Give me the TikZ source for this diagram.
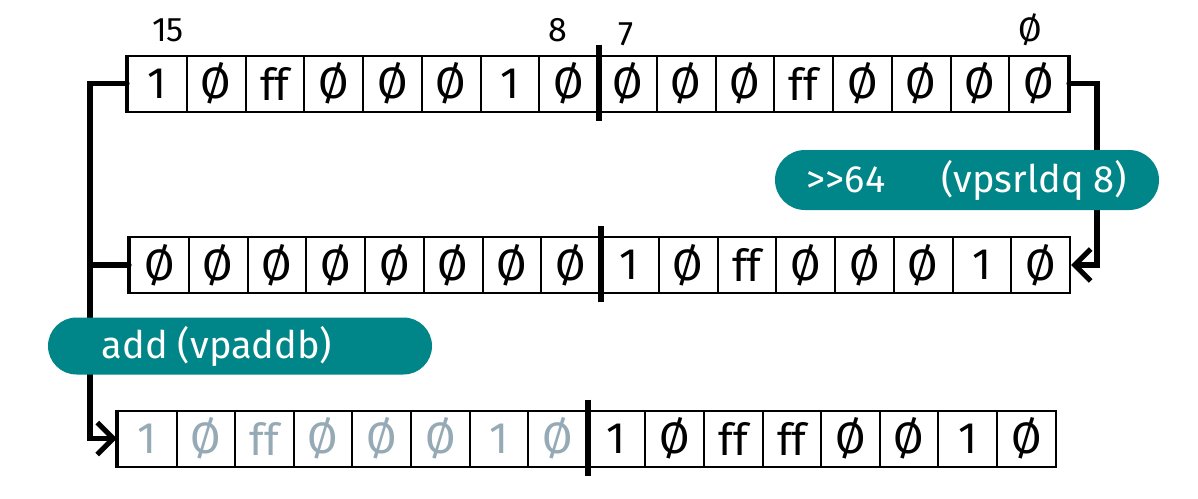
\documentclass[tikz,border=0pt]{standalone}
\usepackage{fontspec}
\setmainfont{Fira Sans}
\usetikzlibrary{arrows.meta,shapes.misc}
\definecolor{blobteal}{RGB}{0,133,136}
\definecolor{fadegray}{RGB}{150,170,182}
\begin{document}
\begin{tikzpicture}[x=0.5pt,y=-0.5pt,
  cellbox/.style={draw=black, line width=1pt, minimum width=29.375pt, minimum height=28pt, inner sep=0pt, font=\fontsize{22}{22}\selectfont},
  fadecell/.style={cellbox, text=fadegray},
  endedge/.style={line width=2pt},
  middiv/.style={line width=2.8pt},
  conn/.style={line width=2.6pt, line cap=round, line join=miter},
  tip/.style={-{Straight Barb[length=8pt,width=16pt,line width=2.6pt]}},
  blob/.style={rounded rectangle, fill=blobteal, text=white, inner sep=0pt, font=\fontsize{19}{19}\selectfont},
  idx/.style={font=\fontsize{17}{17}\selectfont}]
\useasboundingbox (0,0) rectangle (1198,498);
\fill[white] (0,0) rectangle (1198,498);

% row 1
\foreach \v [count=\i] in {1,Ø,ff,Ø,Ø,Ø,1,Ø,Ø,Ø,Ø,ff,Ø,Ø,Ø,Ø}
  \node[cellbox] (r1c\i) at ({128+(\i-0.5)*58.75},83.5) {\v};
% row 2
\foreach \v [count=\i] in {Ø,Ø,Ø,Ø,Ø,Ø,Ø,Ø,1,Ø,ff,Ø,Ø,Ø,1,Ø}
  \node[cellbox] (r2c\i) at ({130+(\i-0.5)*58.75},265) {\v};
% row 3
\foreach \v [count=\i] in {1,Ø,ff,Ø,Ø,Ø,1,Ø}
  \node[fadecell] (r3c\i) at ({118+(\i-0.5)*58.6},438.5) {\v};
\foreach \v [count=\i from 9] in {1,Ø,ff,ff,Ø,Ø,1,Ø}
  \node[cellbox] (r3c\i) at ({118+(\i-0.5)*58.6},438.5) {\v};

% thick edges and middle dividers
\foreach \r in {1,2,3}{
  \draw[endedge] (r\r c1.north west) -- (r\r c1.south west);
  \draw[middiv] ([yshift=5pt]r\r c8.north east) -- ([yshift=-4pt]r\r c8.south east);
}
\draw[endedge] (r1c16.north east) -- (r1c16.south east);

% index labels
\node[idx] (i15) at (168,30) {15};
\node[idx] (i8) at (558,30) {8};
\node[idx] (i7) at (626,34) {7};
\node[idx] (i0) at (1030,30) {Ø};

% connectors
\coordinate (lbus) at (90,0);
\coordinate (rbus) at (1097,0);
\draw[conn,tip] (r1c1.west) -| (lbus |- r3c1.west) -- (r3c1.west);
\draw[conn] (r2c1.west) -- (lbus |- r2c1.west);
\draw[conn,tip] (r1c16.east) -| (rbus |- r2c16.east) -- (r2c16.east);

% operation blobs
\node[blob, minimum width=192pt, minimum height=30pt] (shiftop) at (967,180)
  {{>}{>}64\hspace{28pt}(vpsrldq 8)};
\node[blob, minimum width=192pt, minimum height=28.5pt] (addop) at (240,346)
  {add (vpaddb)\hspace*{23pt}};
\end{tikzpicture}
\end{document}
